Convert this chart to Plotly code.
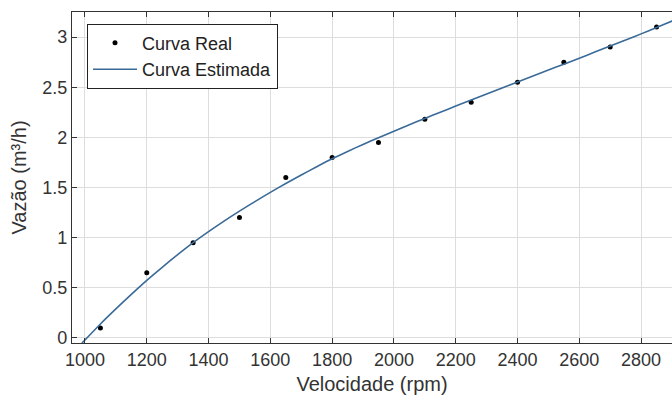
import plotly.graph_objects as go

# Measured data (Curva Real)
rpm_real = [1050, 1200, 1350, 1500, 1650, 1800, 1950, 2100, 2250, 2400, 2550, 2700, 2850]
vazao_real = [0.10, 0.65, 0.95, 1.20, 1.60, 1.80, 1.95, 2.18, 2.35, 2.55, 2.75, 2.90, 3.10]

# Estimated curve (Curva Estimada)
rpm_est = [990, 1000, 1050, 1100, 1150, 1200, 1250, 1300, 1350, 1400, 1450, 1500, 1550,
           1600, 1650, 1700, 1750, 1800, 1850, 1900, 1950, 2000, 2050, 2100, 2150,
           2200, 2250, 2300, 2350, 2400, 2450, 2500, 2550, 2600, 2650, 2700, 2750,
           2800, 2850, 2900, 2950]
vazao_est = [-0.05, -0.02, 0.14, 0.29, 0.435, 0.575, 0.705, 0.83, 0.95, 1.06, 1.165, 1.265, 1.36,
             1.452, 1.54, 1.625, 1.707, 1.786, 1.860, 1.930, 1.997, 2.062, 2.126, 2.189, 2.251,
             2.312, 2.373, 2.433, 2.493, 2.553, 2.612, 2.671, 2.730, 2.790, 2.850, 2.910, 2.970,
             3.032, 3.095, 3.160, 3.225]

x_ticks = [1000, 1200, 1400, 1600, 1800, 2000, 2200, 2400, 2600, 2800]
y_ticks = [0, 0.5, 1, 1.5, 2, 2.5, 3]
y_tick_text = ["0", "0.5", "1", "1.5", "2", "2.5", "3"]

font_family = "Liberation Sans, Arial, sans-serif"
axis_color = "#333333"

fig = go.Figure()
fig.add_trace(go.Scatter(
    x=rpm_real, y=vazao_real, mode="markers", name="Curva Real",
    marker=dict(color="black", size=5),
))
fig.add_trace(go.Scatter(
    x=rpm_est, y=vazao_est, mode="lines", name="Curva Estimada",
    line=dict(color="#3a6a98", width=1.6, shape="spline", smoothing=0.8),
))

fig.update_layout(
    width=672, height=403,
    margin=dict(l=72, r=0, t=12, b=60),
    paper_bgcolor="white", plot_bgcolor="white",
    font=dict(family=font_family, size=18, color=axis_color),
    legend=dict(
        x=0.025, y=0.965, xanchor="left", yanchor="top",
        bgcolor="white", bordercolor="#222222", borderwidth=1,
        font=dict(size=18, color="#222222"),
        tracegroupgap=0, itemwidth=44,
    ),
    showlegend=True,
)

fig.update_xaxes(
    range=[958, 2900],
    tickvals=x_ticks,
    showgrid=True, gridcolor="#dddddd", gridwidth=1,
    showline=True, linecolor=axis_color, linewidth=1.2,
    mirror="ticks", ticks="inside", ticklen=5, tickcolor=axis_color,
    zeroline=False,
    title=dict(text="Velocidade (rpm)", font=dict(size=20, color=axis_color), standoff=8),
    tickfont=dict(size=18, color=axis_color),
)
fig.update_yaxes(
    range=[-0.05, 3.25],
    tickvals=y_ticks, ticktext=y_tick_text,
    showgrid=True, gridcolor="#dddddd", gridwidth=1,
    showline=True, linecolor=axis_color, linewidth=1.2,
    mirror=False, ticks="inside", ticklen=5, tickcolor=axis_color,
    zeroline=False,
    title=dict(text="Vazão (m³/h)", font=dict(size=20, color=axis_color), standoff=10),
    tickfont=dict(size=18, color=axis_color),
)

fig.write_html("out.html")
